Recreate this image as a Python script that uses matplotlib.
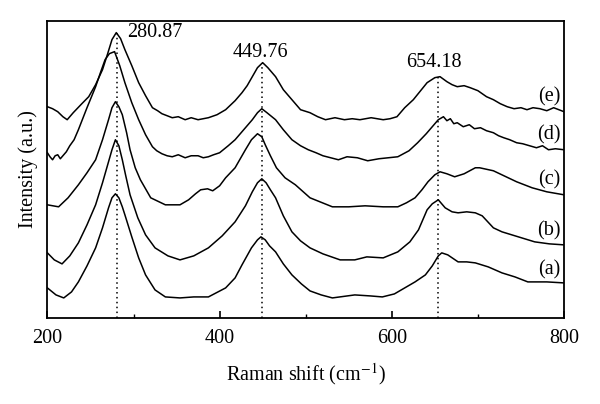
import numpy as np
import matplotlib
matplotlib.use('Agg')
import matplotlib.pyplot as plt

plt.rcParams['font.family'] = ['Liberation Serif', 'DejaVu Serif']
plt.rcParams['mathtext.fontset'] = 'stix'

# Raman spectra (a)-(e), offset vertically, intensity in arbitrary units
a_x = [200, 210, 219, 228, 236, 246, 256, 264, 271, 275, 279, 283, 287, 290, 298, 306, 314, 325, 337, 354, 370, 387, 407, 418, 426, 437, 444, 448, 453, 458, 465, 474, 484, 495, 505, 518, 531, 557, 575, 589, 603, 615, 627, 639, 647, 654, 658, 665, 677, 687, 697, 712, 728, 743, 758, 780, 800]
a_y = [30, 23, 20, 26, 36, 52, 70, 90, 110, 120, 124, 120, 111, 103, 81, 60, 43, 28, 21, 20, 21, 21, 30, 40, 53, 70, 78, 81, 78, 72, 66, 54, 43, 34, 27, 23, 20, 23, 22, 21, 24, 30, 36, 43, 52, 62, 65, 63, 56, 56, 55, 51, 45, 41, 36, 36, 35]

b_x = [200, 208, 217, 226, 236, 246, 256, 264, 270, 275, 279, 283, 287, 291, 296, 305, 314, 325, 340, 354, 370, 387, 403, 418, 430, 438, 444, 449, 454, 459, 465, 474, 484, 494, 505, 520, 540, 557, 571, 590, 607, 621, 631, 641, 647, 654, 662, 670, 677, 687, 697, 705, 718, 728, 747, 766, 783, 800]
b_y = [65, 58, 54, 62, 75, 93, 113, 135, 153, 168, 178, 172, 158, 142, 123, 100, 83, 70, 62, 58, 62, 70, 82, 96, 112, 126, 135, 139, 135, 128, 120, 102, 86, 77, 70, 64, 58, 58, 61, 60, 66, 76, 88, 108, 114, 118, 110, 106, 105, 106, 105, 102, 90, 86, 81, 76, 74, 73]

c_x = [200, 213, 224, 236, 246, 256, 264, 271, 275, 279, 283, 287, 292, 296, 302, 308, 320, 337, 354, 364, 372, 378, 386, 392, 400, 407, 418, 430, 437, 444, 449, 453, 459, 466, 476, 488, 505, 531, 550, 569, 590, 607, 617, 627, 635, 642, 650, 656, 664, 673, 684, 697, 702, 718, 745, 763, 780, 800]
c_y = [113, 111, 120, 133, 145, 158, 178, 198, 210, 216, 211, 203, 185, 168, 150, 138, 120, 113, 113, 118, 124, 128, 129, 127, 132, 140, 150, 168, 178, 184, 181, 173, 162, 150, 140, 133, 120, 111, 111, 112, 111, 111, 115, 120, 128, 136, 143, 146, 144, 141, 144, 150, 150, 147, 136, 130, 126, 123]

d_x = [200, 203, 206, 209, 212, 215, 217, 222, 226, 231, 236, 246, 256, 262, 267, 272, 278, 284, 290, 298, 306, 314, 322, 327, 333, 339, 345, 352, 360, 367, 375, 381, 387, 393, 400, 410, 418, 428, 438, 444, 449, 455, 465, 474, 484, 494, 503, 512, 520, 529, 538, 548, 560, 572, 585, 596, 607, 620, 630, 640, 647, 654, 660, 664, 668, 672, 676, 683, 690, 696, 703, 710, 718, 724, 730, 737, 745, 752, 760, 768, 775, 782, 790, 800]
d_y = [165, 161, 158, 162, 163, 159, 161, 166, 172, 178, 188, 210, 231, 246, 258, 264, 266, 252, 235, 215, 198, 183, 171, 167, 164, 162, 161, 163, 160, 162, 162, 160, 161, 163, 165, 172, 178, 188, 198, 205, 209, 205, 198, 188, 178, 172, 168, 165, 162, 160, 158, 161, 160, 157, 159, 160, 161, 167, 175, 184, 191, 198, 201, 197, 199, 194, 195, 191, 193, 189, 190, 187, 185, 182, 180, 178, 175, 174, 172, 170, 172, 168, 169, 168]

e_x = [200, 206, 212, 218, 223, 230, 240, 248, 256, 264, 270, 275, 280, 285, 290, 298, 306, 314, 322, 328, 333, 339, 345, 352, 360, 367, 375, 381, 387, 397, 407, 418, 426, 432, 438, 444, 450, 456, 465, 474, 484, 494, 505, 514, 523, 534, 545, 554, 563, 576, 590, 598, 606, 615, 625, 641, 650, 656, 664, 670, 676, 684, 691, 700, 710, 718, 726, 734, 742, 750, 757, 764, 772, 780, 788, 794, 800]
e_y = [211, 209, 206, 201, 198, 205, 214, 221, 233, 248, 264, 278, 285, 279, 268, 252, 235, 222, 210, 207, 204, 202, 200, 201, 198, 200, 198, 199, 200, 203, 208, 217, 225, 232, 241, 250, 255, 250, 241, 228, 218, 208, 205, 201, 198, 200, 198, 199, 198, 200, 198, 199, 201, 210, 218, 235, 240, 241, 236, 233, 231, 232, 230, 227, 221, 218, 214, 211, 209, 210, 208, 210, 209, 207, 210, 208, 206]

curve_labels = ['(a)', '(b)', '(c)', '(d)', '(e)']
label_y = [48, 87, 138, 183, 221]

peak_pos = [280.87, 449.76, 654.18]
peak_top = [285, 255, 241]
peak_text = ['280.87', '449.76', '654.18']


def make_plot():
	plotfontsize = 14.5
	fig = plt.figure(figsize=(6.0, 4.04), dpi=100)
	ax = fig.add_axes([0.079, 0.213, 0.861, 0.736])

	for xs, ys in [(a_x, a_y), (b_x, b_y), (c_x, c_y), (d_x, d_y), (e_x, e_y)]:
		ax.plot(xs, ys, color='black', linewidth=1.1)

	#dotted guide lines at the peak positions
	for p, top in zip(peak_pos, peak_top):
		ax.plot([p, p], [0, top], color='black', linestyle=(0, (1, 2.2)), linewidth=1.1)

	ax.text(293, 285, peak_text[0], fontsize=plotfontsize, ha='left', va='center')
	ax.text(448, 265, peak_text[1], fontsize=plotfontsize, ha='center', va='center')
	ax.text(649, 255, peak_text[2], fontsize=plotfontsize, ha='center', va='center')

	for lab, ly in zip(curve_labels, label_y):
		ax.text(796, ly, lab, fontsize=plotfontsize, ha='right', va='center')

	ax.axis([200, 800, 0, 297])
	ax.set_xticks([200, 400, 600, 800])
	ax.set_xticks([300, 500, 700], minor=True)
	ax.set_yticks([])
	ax.tick_params(axis='x', which='major', direction='in', length=5, width=1.2, labelsize=plotfontsize, pad=8, top=False)
	ax.tick_params(axis='x', which='minor', direction='in', length=3, width=1.0, top=False)
	for s in ax.spines.values():
		s.set_linewidth(1.3)

	ax.set_xlabel(r'Raman shift (cm$^{-1}$)', fontsize=plotfontsize, labelpad=9)
	ax.set_ylabel('Intensity (a.u.)', fontsize=plotfontsize, labelpad=7)

	plt.savefig('out.png', dpi=100)


if __name__ == "__main__":
	make_plot()
